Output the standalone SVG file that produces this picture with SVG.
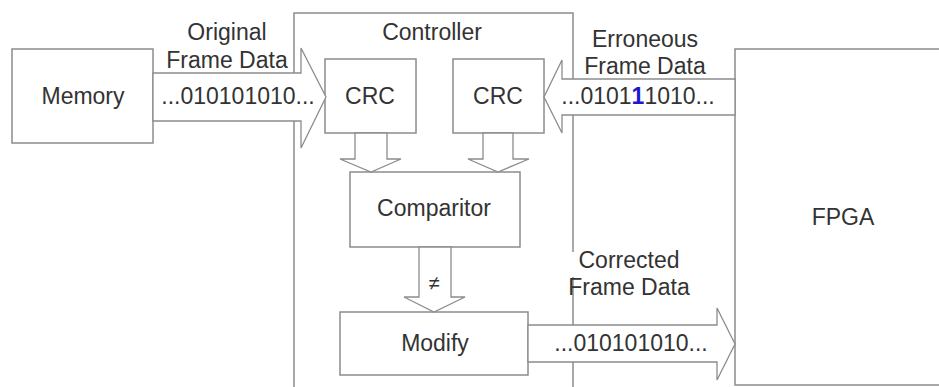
<svg xmlns="http://www.w3.org/2000/svg" width="939" height="387" viewBox="0 0 939 387">
<style>
.box{fill:#fff;stroke:#8c8c8c;stroke-width:1.5}
.arr{fill:#fff;stroke:#8c8c8c;stroke-width:1.3;stroke-linejoin:miter}
text{font-family:"Liberation Sans",Arial,sans-serif;font-size:23px;fill:#333;text-anchor:middle}
.blue{fill:#1a1acc;font-weight:bold}
</style>
<rect width="939" height="387" fill="#fff"/>
<g id="controller">
<rect class="box" x="294" y="13" width="279" height="400"/>
<text x="432" y="40">Controller</text>
</g>
<g id="fpga">
<rect class="box" x="735" y="49" width="212" height="336"/>
<text x="843" y="225">FPGA</text>
</g>
<g id="memory">
<rect class="box" x="12" y="49" width="141" height="94"/>
<text x="83" y="104">Memory</text>
</g>
<g id="crc1">
<rect class="box" x="325" y="59" width="91" height="74"/>
<text x="370" y="104">CRC</text>
</g>
<g id="crc2">
<rect class="box" x="453" y="59" width="91" height="74"/>
<text x="498" y="104">CRC</text>
</g>
<g id="comparitor">
<rect class="box" x="350" y="172" width="170" height="75"/>
<text x="434" y="216">Comparitor</text>
</g>
<g id="modify">
<rect class="box" x="340" y="312" width="188" height="63"/>
<text x="435" y="351">Modify</text>
</g>
<g id="connectors">
<polygon class="arr" points="153,73 301,73 301,48 326,97 301,148 301,121 153,121"/>
<polygon class="arr" points="735,79 562,79 562,60 544,97 562,133 562,115 735,115"/>
<polygon class="arr" points="355,133 355,159 340,159 371,172 401,159 387,159 387,133"/>
<polygon class="arr" points="483,133 483,159 468,159 498,172 529,159 513,159 513,133"/>
<polygon class="arr" points="419,247 419,297 404,297 434,312 465,297 451,297 451,247"/>
<polygon class="arr" points="528,325 717,325 717,308 735,344 717,380 717,362 528,362"/>
<text x="227" y="40">Original</text>
<text x="227" y="68">Frame Data</text>
<text x="238" y="104">...010101010...</text>
<text x="645" y="47">Erroneous</text>
<text x="645" y="74">Frame Data</text>
<text x="638" y="104">...0101<tspan class="blue">1</tspan>1010...</text>
<text x="434" y="290" style="font-size:20px">≠</text>
<rect x="585" y="252" width="92" height="25" fill="#fff"/>
<rect x="566" y="252" width="12" height="25" fill="#fff"/>
<text x="629" y="268">Corrected</text>
<text x="629" y="295">Frame Data</text>
<text x="631" y="351">...010101010...</text>
</g>
</svg>
